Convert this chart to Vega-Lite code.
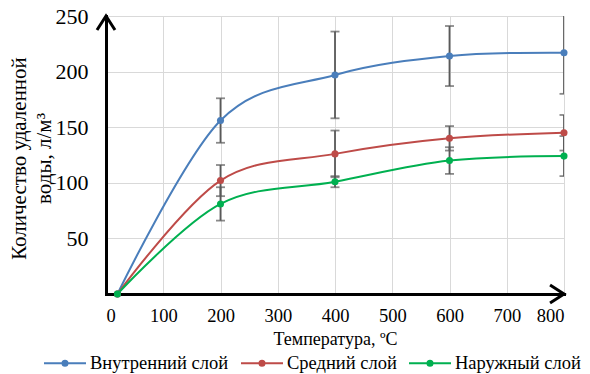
{
  "$schema": "https://vega.github.io/schema/vega-lite/v6.json",
  "width": 458,
  "height": 278,
  "autosize": {"type": "none"},
  "padding": {"left": 106, "top": 16, "right": 26, "bottom": 80},
  "background": "white",
  "config": {
    "font": "Liberation Serif",
    "view": {"stroke": null},
    "axis": {"labelFont": "Liberation Serif", "titleFont": "Liberation Serif"},
    "legend": {"labelFont": "Liberation Serif", "titleFont": "Liberation Serif"}
  },
  "data": {
    "values": [
      {"series": "Внутренний слой", "t": 20, "v": 0, "lo": null, "hi": null},
      {"series": "Внутренний слой", "t": 200, "v": 156, "lo": 136, "hi": 176},
      {"series": "Внутренний слой", "t": 400, "v": 197, "lo": 158, "hi": 236},
      {"series": "Внутренний слой", "t": 600, "v": 214, "lo": 187, "hi": 241},
      {"series": "Внутренний слой", "t": 800, "v": 217, "lo": 180, "hi": 254},
      {"series": "Средний слой", "t": 20, "v": 0, "lo": null, "hi": null},
      {"series": "Средний слой", "t": 200, "v": 102, "lo": 88, "hi": 116},
      {"series": "Средний слой", "t": 400, "v": 126, "lo": 105, "hi": 147},
      {"series": "Средний слой", "t": 600, "v": 140, "lo": 129, "hi": 151},
      {"series": "Средний слой", "t": 800, "v": 145, "lo": 129, "hi": 161},
      {"series": "Наружный слой", "t": 20, "v": 0, "lo": null, "hi": null},
      {"series": "Наружный слой", "t": 200, "v": 81, "lo": 66, "hi": 96},
      {"series": "Наружный слой", "t": 400, "v": 101, "lo": 96, "hi": 106},
      {"series": "Наружный слой", "t": 600, "v": 120, "lo": 108, "hi": 132},
      {"series": "Наружный слой", "t": 800, "v": 124, "lo": 106, "hi": 142}
    ]
  },
  "layer": [
    {
      "mark": {"type": "line", "interpolate": "cardinal", "strokeWidth": 2, "clip": true},
      "encoding": {
        "x": {
          "field": "t", "type": "quantitative",
          "scale": {"domain": [0, 800], "nice": false},
          "axis": {
            "values": [0, 100, 200, 300, 400, 500, 600, 700, 800],
            "title": "Температура, ºC",
            "titleFont": "Liberation Serif", "labelFont": "Liberation Serif",
            "titleFontSize": 18, "titleFontWeight": "normal", "titleColor": "black",
            "titleBaseline": "middle", "titleX": 229, "titleY": 45,
            "labelFontSize": 18.5, "labelColor": "black", "labelPadding": 12,
            "ticks": false, "tickSize": 0,
            "domainColor": "black", "domainWidth": 3, "domainCap": "square",
            "gridColor": "#d9d9d9", "gridWidth": 1
          }
        },
        "y": {
          "field": "v", "type": "quantitative",
          "scale": {"domain": [0, 250], "nice": false},
          "axis": {
            "values": [50, 100, 150, 200, 250],
            "title": ["Количество удаленной", "воды, л/м³"],
            "titleFont": "Liberation Serif", "labelFont": "Liberation Serif",
            "titleFontSize": 21, "titleFontWeight": "normal", "titleColor": "black",
            "titleLineHeight": 25, "titleAngle": -90, "titleAlign": "center",
            "titleBaseline": "alphabetic", "titleX": -81, "titleY": 142,
            "labelFontSize": 22, "labelColor": "black", "labelPadding": 18,
            "ticks": false, "tickSize": 0,
            "domainColor": "black", "domainWidth": 3, "domainCap": "square",
            "gridColor": "#d9d9d9", "gridWidth": 1
          }
        },
        "color": {
          "field": "series", "type": "nominal",
          "scale": {"domain": ["Внутренний слой", "Средний слой", "Наружный слой"], "range": ["#4a7ebb", "#be4b48", "#00b050"]},
          "legend": {
            "title": null, "orient": "none", "direction": "horizontal",
            "legendX": -63, "legendY": 325, "padding": 0,
            "symbolType": "M-1,0L1,0M-0.12,0A0.12,0.12,0,1,0,0.12,0A0.12,0.12,0,1,0,-0.12,0Z",
            "symbolSize": 1764, "symbolStrokeWidth": 2,
            "labelFont": "Liberation Serif",
            "labelFontSize": 18.5, "labelColor": "black", "labelOffset": 3,
            "columnPadding": 8,
            "encode": {
              "symbols": {
                "update": {
                  "fill": {"scale": "color", "field": "value"},
                  "stroke": {"scale": "color", "field": "value"},
                  "strokeWidth": {"value": 2},
                  "opacity": {"value": 1}
                }
              }
            }
          }
        }
      }
    },
    {
      "transform": [{"filter": "datum.hi != null"}],
      "mark": {"type": "rule", "color": "#595959", "strokeWidth": 1.8, "clip": true},
      "encoding": {
        "x": {"field": "t", "type": "quantitative"},
        "y": {"field": "lo", "type": "quantitative"},
        "y2": {"field": "hi"}
      }
    },
    {
      "transform": [{"filter": "datum.hi != null"}],
      "mark": {"type": "tick", "orient": "horizontal", "color": "#595959", "size": 9, "thickness": 1.8, "clip": true},
      "encoding": {
        "x": {"field": "t", "type": "quantitative"},
        "y": {"field": "lo", "type": "quantitative"}
      }
    },
    {
      "transform": [{"filter": "datum.hi != null"}],
      "mark": {"type": "tick", "orient": "horizontal", "color": "#595959", "size": 9, "thickness": 1.8, "clip": true},
      "encoding": {
        "x": {"field": "t", "type": "quantitative"},
        "y": {"field": "hi", "type": "quantitative"}
      }
    },
    {
      "mark": {"type": "point", "filled": true, "size": 50, "opacity": 1},
      "encoding": {
        "x": {"field": "t", "type": "quantitative"},
        "y": {"field": "v", "type": "quantitative"},
        "color": {"field": "series", "type": "nominal"}
      }
    },
    {
      "data": {"values": [{"t": 800, "v": 0}]},
      "mark": {"type": "point", "shape": "M-1.55,-1L0,0L-1.55,1", "filled": false, "stroke": "black", "strokeWidth": 3, "size": 324, "opacity": 1, "strokeJoin": "miter"},
      "encoding": {
        "x": {"field": "t", "type": "quantitative"},
        "y": {"field": "v", "type": "quantitative"}
      }
    },
    {
      "data": {"values": [{"t": 0, "v": 250}]},
      "mark": {"type": "point", "shape": "M-1,1.55L0,0L1,1.55", "filled": false, "stroke": "black", "strokeWidth": 3, "size": 324, "opacity": 1, "strokeJoin": "miter"},
      "encoding": {
        "x": {"field": "t", "type": "quantitative"},
        "y": {"field": "v", "type": "quantitative"}
      }
    }
  ]
}
